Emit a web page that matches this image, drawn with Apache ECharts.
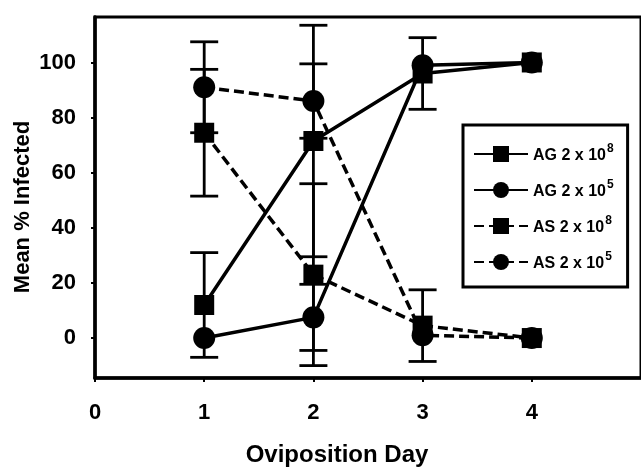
<!DOCTYPE html>
<html>
<head>
<meta charset="utf-8">
<script src="https://cdn.jsdelivr.net/npm/echarts@6/dist/echarts.min.js"></script>
<style>html,body{margin:0;padding:0;background:#fff;}#c{width:641px;height:468px;}</style>
</head>
<body>
<div id="c"></div>
<script>
const days = [1, 2, 3, 4];
const xTicks = [0, 1, 2, 3, 4];
const yTicks = [0, 20, 40, 60, 80, 100];
const seriesNames = ['AG 2 x 10|8', 'AG 2 x 10|5', 'AS 2 x 10|8', 'AS 2 x 10|5'];
const agHigh = [12, 71.5, 96, 100];
const agHighErr = [19, 42, 13, 0];
const agLow = [0, 7.5, 99, 100];
const agLowErr = [0, 12, 0, 0];
const asHigh = [74.5, 23, 4.5, 0];
const asHighErr = [23, 33, 13, 0];
const asLow = [91, 86, 1, 0];
const asLowErr = [16.5, 13.5, 0, 0];

const font = 'Arial, "Liberation Sans", sans-serif';
const chart = echarts.init(document.getElementById('c'));

function pts(vals) { return days.map((d, i) => [d, vals[i]]); }
function errData(vals, errs) {
  return days.map((d, i) => [d, vals[i] - errs[i], vals[i] + errs[i]]).filter((r, i) => errs[i] > 0);
}
function errSeries(vals, errs) {
  return {
    type: 'custom', silent: true, z: 1, clip: false,
    data: errData(vals, errs),
    renderItem: function (params, api) {
      const lo = api.coord([api.value(0), api.value(1)]);
      const hi = api.coord([api.value(0), api.value(2)]);
      const hw = 14;
      const st = { stroke: '#000', lineWidth: 2.8 };
      return { type: 'group', children: [
        { type: 'line', shape: { x1: lo[0], y1: lo[1], x2: hi[0], y2: hi[1] }, style: st },
        { type: 'line', shape: { x1: lo[0] - hw, y1: lo[1], x2: lo[0] + hw, y2: lo[1] }, style: st },
        { type: 'line', shape: { x1: hi[0] - hw, y1: hi[1], x2: hi[0] + hw, y2: hi[1] }, style: st }
      ]};
    }
  };
}
function lineSeries(name, vals, symbol, dashed) {
  return {
    name: name, type: 'line', data: pts(vals), z: 3,
    symbol: symbol, symbolSize: symbol === 'rect' ? 20 : 22,
    itemStyle: { color: '#000' },
    lineStyle: { color: '#000', width: 3.5, type: dashed ? [10, 5] : 'solid' },
    emphasis: { disabled: true }, animation: false
  };
}

chart.setOption({
  animation: false,
  grid: { left: 95, top: 17, right: -5, bottom: 90, show: true, borderColor: '#000', borderWidth: 3 },
  xAxis: {
    type: 'value', min: 0, max: 5,
    axisLine: { show: true, onZero: false, lineStyle: { color: '#000', width: 3.5 } },
    axisTick: { show: true, length: 4, lineStyle: { color: '#000', width: 2 }, customValues: xTicks },
    axisLabel: { color: '#000', fontFamily: font, fontWeight: 'bold', fontSize: 22, margin: 24, customValues: xTicks },
    splitLine: { show: false }
  },
  yAxis: {
    type: 'value', min: -14.5, max: 116.5,
    axisLine: { show: true, onZero: false, lineStyle: { color: '#000', width: 3.5 } },
    axisTick: { show: true, length: 4, lineStyle: { color: '#000', width: 2 }, customValues: yTicks },
    axisLabel: { color: '#000', fontFamily: font, fontWeight: 'bold', fontSize: 22, margin: 19, customValues: yTicks },
    splitLine: { show: false }
  },
  legend: {
    orient: 'vertical', left: 463, top: 125,
    padding: [18, 14, 15, 10], itemGap: 15, itemWidth: 54, itemHeight: 20,
    backgroundColor: '#fff', borderColor: '#000', borderWidth: 3,
    data: seriesNames,
    formatter: function (n) { const p = n.split('|'); return '{t|' + p[0] + '}{s|' + p[1] + '}'; },
    textStyle: {
      color: '#000', fontFamily: font, fontWeight: 'bold', fontSize: 16,
      rich: {
        t: { fontFamily: font, fontWeight: 'bold', fontSize: 16, color: '#000', lineHeight: 20, verticalAlign: 'bottom' },
        s: { fontFamily: font, fontWeight: 'bold', fontSize: 12, color: '#000', lineHeight: 20, verticalAlign: 'bottom', padding: [0, 0, 9, 1] }
      }
    }
  },
  graphic: [
    { type: 'text', x: 337, y: 455, style: { text: 'Oviposition Day', font: 'bold 24px ' + font, fill: '#000', textAlign: 'center', textVerticalAlign: 'middle' } },
    { type: 'text', rotation: Math.PI / 2, x: 23, y: 207, style: { text: 'Mean % Infected', font: 'bold 22px ' + font, fill: '#000', textAlign: 'center', textVerticalAlign: 'middle' } }
  ],
  series: [
    errSeries(agHigh, agHighErr), errSeries(agLow, agLowErr),
    errSeries(asHigh, asHighErr), errSeries(asLow, asLowErr),
    lineSeries(seriesNames[0], agHigh, 'rect', false),
    lineSeries(seriesNames[1], agLow, 'circle', false),
    lineSeries(seriesNames[2], asHigh, 'rect', true),
    lineSeries(seriesNames[3], asLow, 'circle', true)
  ]
});
</script>
</body>
</html>
